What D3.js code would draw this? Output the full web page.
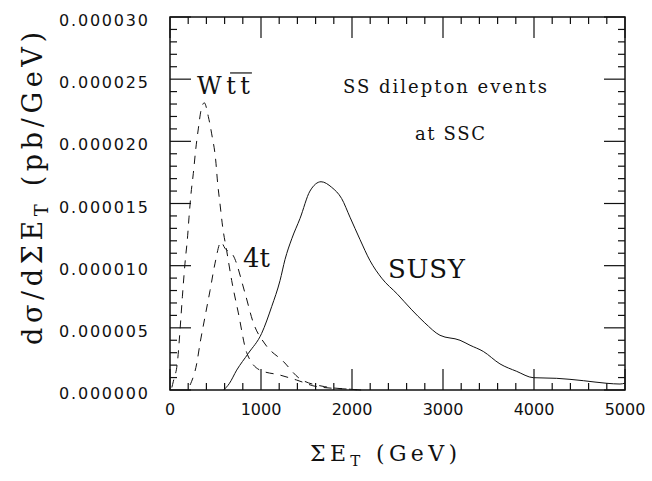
<!DOCTYPE html>
<html lang="en">
<head>
<meta charset="UTF-8">
<title>SS dilepton events at SSC</title>
<script src="https://d3js.org/d3.v7.min.js"></script>
<style>
  body { margin: 0; background: #fff; }
  .tick-label { font-family: "DejaVu Sans", sans-serif; font-size: 16px; fill: #111; }
  .serif { font-family: "DejaVu Serif", serif; fill: #111; }
</style>
</head>
<body>
<script>
// values (x in GeV, y in pb/GeV)
var wttX = [20, 37, 84, 110, 136, 165, 194, 209, 231, 256, 282, 311, 341, 377, 421, 458, 502, 524, 549, 579, 623, 678, 751, 843, 989, 1209, 1392, 1615, 2000, 2100];
var wttY = [0.2e-6, 0.7e-6, 2.4e-6, 4.8e-6, 7.5e-6, 10.2e-6, 12.4e-6, 13.9e-6, 15.8e-6, 17.4e-6, 19.3e-6, 21.0e-6, 22.5e-6, 23.1e-6, 22.0e-6, 20.6e-6, 18.5e-6, 16.6e-6, 15.0e-6, 13.1e-6, 11.2e-6, 8.8e-6, 6.2e-6, 3.0e-6, 1.6e-6, 1.2e-6, 0.8e-6, 0.27e-6, 0.05e-6, 0];

var fourtX = [220, 238, 293, 330, 385, 440, 495, 560, 604, 696, 824, 916, 1044, 1245, 1429, 1700, 2000, 2100];
var fourtY = [0.4e-6, 0.7e-6, 2.1e-6, 3.75e-6, 5.9e-6, 8.0e-6, 10.2e-6, 11.9e-6, 11.4e-6, 10.8e-6, 7.8e-6, 5.4e-6, 3.7e-6, 2.3e-6, 0.9e-6, 0.27e-6, 0.05e-6, 0];

var susyX = [590, 650, 733, 861, 1007, 1117, 1209, 1264, 1340, 1429, 1538, 1660, 1777, 1886, 1978, 2088, 2198, 2326, 2500, 2650, 2800, 2967, 3187, 3297, 3443, 3626, 3810, 3993, 4249, 4542, 4799, 4945, 5000];
var susyY = [0, 0.5e-6, 1.6e-6, 2.95e-6, 4.55e-6, 6.7e-6, 8.8e-6, 10.5e-6, 12.2e-6, 13.8e-6, 16.0e-6, 16.75e-6, 16.3e-6, 15.4e-6, 13.9e-6, 12.1e-6, 10.4e-6, 9.0e-6, 7.7e-6, 6.5e-6, 5.4e-6, 4.4e-6, 4.0e-6, 3.6e-6, 3.1e-6, 2.1e-6, 1.5e-6, 0.99e-6, 0.94e-6, 0.75e-6, 0.54e-6, 0.48e-6, 0.55e-6];

var xTicks = [0, 1000, 2000, 3000, 4000, 5000];
var yTicks = [0, 0.000005, 0.000010, 0.000015, 0.000020, 0.000025, 0.000030];
var yTickLabels = ["0.000000", "0.000005", "0.000010", "0.000015", "0.000020", "0.000025", "0.000030"];

var W = 652, H = 481;
var margin = {top: 17, right: 27, bottom: 91, left: 170};
var width = W - margin.left - margin.right;
var height = H - margin.top - margin.bottom;

var svg = d3.select("body").append("svg")
  .attr("width", W)
  .attr("height", H);

var g = svg.append("g")
  .attr("transform", "translate(" + margin.left + "," + margin.top + ")");

var x = d3.scaleLinear().domain([0, 5000]).range([0, width]);
var y = d3.scaleLinear().domain([0, 0.00003]).range([height, 0]);

// frame
g.append("rect")
  .attr("width", width).attr("height", height)
  .attr("fill", "none").attr("stroke", "#111").attr("stroke-width", 1.5);

// inward ticks on all four sides
var majLen = 21, minLen = 7;
var xMinor = d3.range(0, 5001, 200);
var yMinor = d3.range(0, 31).map(function(i) { return i * 1e-6; });

xMinor.forEach(function(v) {
  var L = (v % 1000 === 0) ? majLen : minLen;
  g.append("line").attr("x1", x(v)).attr("x2", x(v)).attr("y1", height).attr("y2", height - L);
  g.append("line").attr("x1", x(v)).attr("x2", x(v)).attr("y1", 0).attr("y2", L);
});
yMinor.forEach(function(v, i) {
  var L = (i % 5 === 0) ? majLen : minLen;
  g.append("line").attr("x1", 0).attr("x2", L).attr("y1", y(v)).attr("y2", y(v));
  g.append("line").attr("x1", width).attr("x2", width - L).attr("y1", y(v)).attr("y2", y(v));
});
g.selectAll("line").attr("stroke", "#111").attr("stroke-width", 1.2);

// tick labels
g.selectAll(".xl").data(xTicks).enter().append("text")
  .attr("class", "tick-label")
  .attr("x", function(d) { return x(d); })
  .attr("y", height + 25)
  .attr("text-anchor", "middle")
  .text(function(d) { return d; });

g.selectAll(".yl").data(yTicks).enter().append("text")
  .attr("class", "tick-label")
  .attr("x", -22)
  .attr("y", function(d) { return y(d) + 9; })
  .attr("text-anchor", "end")
  .attr("textLength", 89)
  .attr("lengthAdjust", "spacing")
  .text(function(d, i) { return yTickLabels[i]; });

// curves
var line = d3.line()
  .x(function(d) { return x(d[0]); })
  .y(function(d) { return y(d[1]); })
  .curve(d3.curveMonotoneX);

function pairs(xs, ys) { return xs.map(function(v, i) { return [v, ys[i]]; }); }

g.append("path").datum(pairs(wttX, wttY))
  .attr("d", line).attr("fill", "none").attr("stroke", "#111")
  .attr("stroke-width", 1).attr("stroke-dasharray", "8,7");

g.append("path").datum(pairs(fourtX, fourtY))
  .attr("d", line).attr("fill", "none").attr("stroke", "#111")
  .attr("stroke-width", 1).attr("stroke-dasharray", "8,7");

g.append("path").datum(pairs(susyX, susyY))
  .attr("d", line).attr("fill", "none").attr("stroke", "#111")
  .attr("stroke-width", 1);

// annotations
g.append("text").attr("class", "serif")
  .attr("x", x(297)).attr("y", y(23.8e-6))
  .attr("textLength", 53).attr("lengthAdjust", "spacing")
  .style("font-size", "24px").text("Wtt");

// bar over the second t
g.append("line")
  .attr("x1", x(660)).attr("x2", x(900))
  .attr("y1", y(25.5e-6)).attr("y2", y(25.5e-6))
  .attr("stroke", "#111").attr("stroke-width", 1.2);

g.append("text").attr("class", "serif")
  .attr("x", x(802)).attr("y", y(9.9e-6))
  .style("font-size", "26px").text("4t");

g.append("text").attr("class", "serif")
  .attr("x", x(2396)).attr("y", y(9.0e-6))
  .attr("textLength", 77).attr("lengthAdjust", "spacing")
  .style("font-size", "26px").text("SUSY");

g.append("text").attr("class", "serif")
  .attr("x", x(1901)).attr("y", y(23.9e-6))
  .attr("textLength", 204).attr("lengthAdjust", "spacing")
  .style("font-size", "18px").text("SS dilepton events");

g.append("text").attr("class", "serif")
  .attr("x", x(2692)).attr("y", y(20.1e-6))
  .attr("textLength", 70).attr("lengthAdjust", "spacing")
  .style("font-size", "18px").text("at SSC");

// axis titles
var xt = svg.append("text").attr("class", "serif")
  .attr("x", 310).attr("y", 461)
  .attr("textLength", 147).attr("lengthAdjust", "spacing")
  .style("font-size", "22px");
xt.append("tspan").text("\u03A3E");
xt.append("tspan").attr("dy", 5).style("font-size", "15px").text("T");
xt.append("tspan").attr("dy", -5).text(" (GeV)");

var yt = svg.append("text").attr("class", "serif")
  .attr("transform", "translate(42,345) rotate(-90)")
  .attr("textLength", 313).attr("lengthAdjust", "spacing")
  .style("font-size", "27px");
yt.append("tspan").text("d\u03C3/d\u03A3E");
yt.append("tspan").attr("dy", 6).style("font-size", "18px").text("T");
yt.append("tspan").attr("dy", -6).text(" (pb/GeV)");
</script>
</body>
</html>
